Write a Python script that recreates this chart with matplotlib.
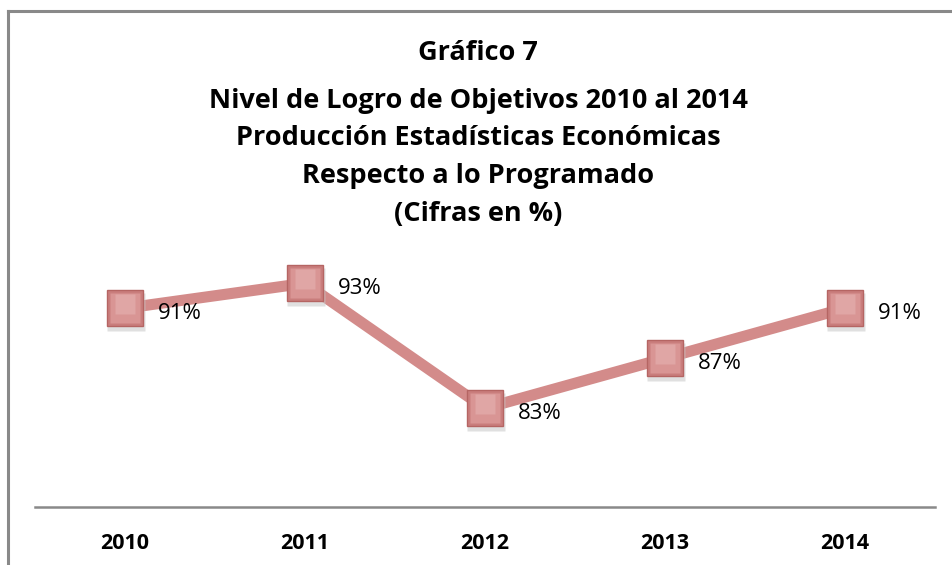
import matplotlib
matplotlib.use("Agg")
import matplotlib.pyplot as plt
from matplotlib.lines import Line2D

years = ["2010", "2011", "2012", "2013", "2014"]
values = [91, 93, 83, 87, 91]
labels = ["91%", "93%", "83%", "87%", "91%"]
title_lines = ["Gráfico 7",
               "Nivel de Logro de Objetivos 2010 al 2014",
               "Producción Estadísticas Económicas",
               "Respecto a lo Programado",
               "(Cifras en %)"]

W, H = 953, 565
fig = plt.figure(figsize=(W / 100, H / 100), dpi=100)
fig.patch.set_facecolor("white")

# border
fig.add_artist(Line2D([8.5 / W, 8.5 / W], [0, 1 - 11 / H], transform=fig.transFigure,
                      color="#898989", lw=2.2))
fig.add_artist(Line2D([8.5 / W, 1], [1 - 11 / H, 1 - 11 / H], transform=fig.transFigure,
                      color="#898989", lw=2.2))

ax_left, ax_right = 35, 935
ax_bottom, ax_top = 507, 250
ax = fig.add_axes([ax_left / W, 1 - ax_bottom / H, (ax_right - ax_left) / W, (ax_bottom - ax_top) / H])
x = list(range(len(years)))
ax.set_xlim(-0.5, len(years) - 0.5)
ax.set_ylim(75.1, 95.66)

ax.plot(x, values, color="#D38B8A", lw=8, solid_capstyle="butt", zorder=2)
# marker shadows
ax.plot([xi + 0.008 for xi in x], [v - 0.3 for v in values], ls="none", marker="s",
        markersize=27, markerfacecolor="#C8C8C8", markeredgecolor="none", alpha=0.55, zorder=3)
ax.plot(x, values, ls="none", marker="s", markersize=26,
        markerfacecolor="#C97D7C", markeredgecolor="#B56563", markeredgewidth=1.0, zorder=4)
ax.plot(x, values, ls="none", marker="s", markersize=21,
        markerfacecolor="#D99594", markeredgecolor="none", zorder=5)
ax.plot(x, [v + 0.35 for v in values], ls="none", marker="s", markersize=14,
        markerfacecolor="#E2ABAA", markeredgecolor="none", alpha=0.8, zorder=6)

for xi, v, lab in zip(x, values, labels):
    ax.annotate(lab, (xi, v), xytext=(24, -4), textcoords="offset points",
                ha="left", va="center", fontsize=16, family="Open Sans", color="black", zorder=7)

for s in ["top", "right", "left"]:
    ax.spines[s].set_visible(False)
ax.spines["bottom"].set_color("#898989")
ax.spines["bottom"].set_linewidth(1.8)
ax.set_yticks([])
ax.set_xticks(x)
ax.set_xticklabels(years, fontsize=15.5, fontweight="bold", family="Open Sans")
ax.tick_params(axis="x", length=0, pad=19)
ax.patch.set_alpha(0)

ys = [53, 101, 138, 176, 214]
for t, yy in zip(title_lines, ys):
    fig.text(478 / W, 1 - yy / H, t, ha="center", va="center", fontsize=19.5,
             fontweight="bold", family="Open Sans")

fig.savefig("out.png", dpi=100)
